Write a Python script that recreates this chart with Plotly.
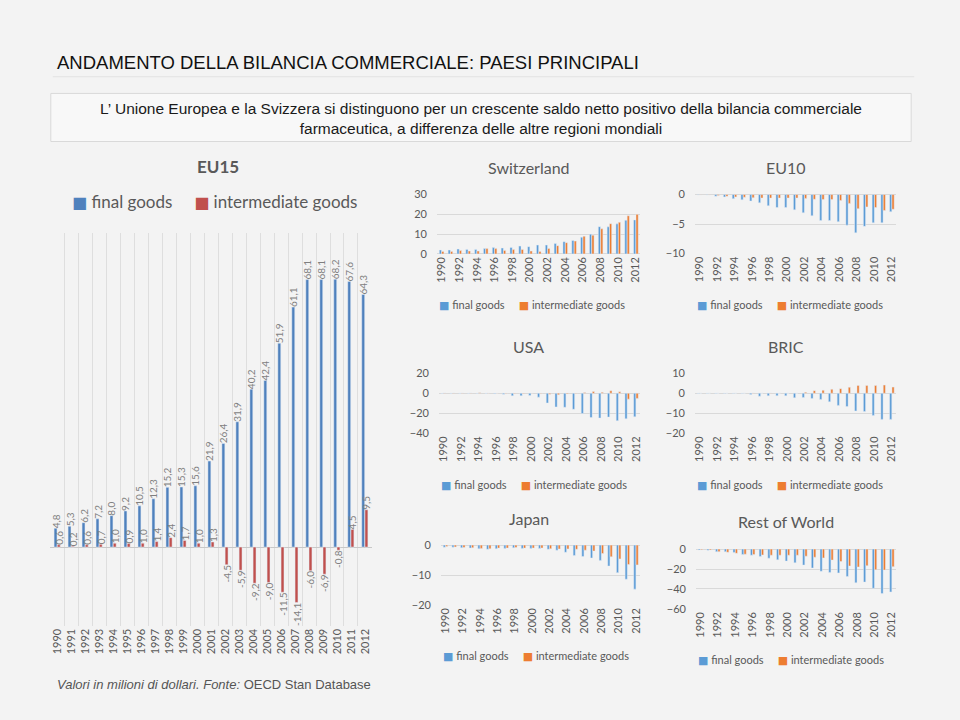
import plotly.graph_objects as go

W, H = 960, 720

years = list(range(1990, 2013))
year_labels = [str(y) for y in years]

# EU15 (final goods / intermediate goods)
eu15_final = [4.8, 5.3, 6.2, 7.2, 8.0, 9.2, 10.5, 12.3, 15.2, 15.3, 15.6, 21.9, 26.4,
              31.9, 40.2, 42.4, 51.9, 61.1, 68.1, 68.1, 68.2, 67.6, 64.3]
eu15_inter = [0.6, 0.2, 0.6, 0.7, 1.0, 0.9, 1.0, 1.4, 2.4, 1.7, 1.0, 1.3, -4.5,
              -5.9, -9.2, -9.0, -11.5, -14.1, -6.0, -6.9, -0.8, 4.5, 9.5]

# Switzerland
ch_final = [2.0, 2.0, 2.5, 2.3, 2.3, 2.7, 3.2, 3.0, 3.3, 4.0, 3.7, 4.5, 4.5,
            5.3, 6.2, 6.8, 8.5, 10.0, 13.8, 13.7, 15.2, 17.0, 17.2]
ch_inter = [1.3, 1.2, 1.7, 1.5, 1.5, 2.7, 2.7, 1.8, 2.2, 2.3, 1.5, 1.2, 2.8,
            4.2, 5.7, 6.5, 9.0, 9.5, 12.7, 15.3, 16.0, 19.3, 20.0]

# EU10
eu10_final = [-0.05, -0.05, -0.3, -0.4, -0.7, -0.9, -1.1, -1.4, -1.9, -2.2, -2.2, -2.6, -3.1,
              -3.6, -4.4, -4.4, -4.6, -5.2, -6.5, -5.4, -4.8, -4.8, -2.9]
eu10_inter = [-0.02, -0.05, -0.15, -0.3, -0.4, -0.45, -0.55, -0.6, -0.6, -0.6, -0.6, -0.6, -0.65,
              -0.8, -0.85, -0.85, -1.0, -1.5, -2.4, -2.1, -2.2, -2.7, -2.5]

# USA
usa_final = [-0.3, -0.2, -0.2, -0.3, -0.3, -0.3, -0.5, -1.0, -2.6, -2.6, -2.3, -3.9, -9.8,
             -13.8, -14.1, -16.1, -20.3, -24.3, -24.9, -23.9, -27.5, -25.6, -23.6]
usa_inter = [0.3, 0.3, 0.2, 0.3, 0.5, -0.2, -0.3, -0.5, -0.5, -0.5, -0.3, -0.5, -1.0,
             -1.5, -0.8, -0.5, 0.8, 1.8, 1.0, 2.5, 1.5, -5.9, -5.2]

# BRIC
bric_final = [-0.1, -0.1, -0.1, -0.1, -0.1, -0.1, -0.6, -1.5, -1.3, -1.2, -1.3, -2.3, -2.1,
              -2.6, -3.1, -4.3, -6.1, -6.7, -8.9, -9.2, -11.1, -13.1, -13.1]
bric_inter = [0.0, 0.0, 0.0, 0.0, 0.0, 0.0, 0.1, 0.0, 0.1, 0.0, 0.0, 0.0, 0.5,
              1.3, 1.5, 2.0, 2.3, 3.0, 3.9, 3.9, 3.9, 4.1, 3.1]

# Japan
jp_final = [-0.7, -0.7, -0.9, -1.0, -1.2, -1.4, -1.2, -1.1, -0.9, -1.1, -1.1, -1.1, -1.4,
            -1.7, -2.4, -3.5, -3.8, -4.3, -5.1, -7.0, -9.2, -11.4, -14.7]
jp_inter = [-0.5, -0.6, -0.8, -0.9, -1.1, -1.2, -1.0, -1.0, -0.8, -1.0, -1.0, -1.0, -1.2,
            -1.3, -1.3, -1.4, -1.7, -2.0, -2.8, -3.9, -4.6, -6.5, -6.6]

# Rest of World
row_final = [-1.0, -1.3, -2.6, -2.6, -3.6, -5.6, -6.2, -7.5, -9.2, -10.8, -12.1, -13.8, -16.1,
             -19.0, -22.3, -23.6, -23.9, -27.5, -33.8, -33.1, -39.3, -44.6, -43.0]
row_inter = [-0.8, -1.0, -2.6, -3.3, -4.3, -5.2, -5.6, -5.9, -6.2, -6.2, -6.2, -6.2, -7.2,
             -8.2, -8.9, -11.1, -12.5, -17.0, -18.0, -16.7, -20.7, -21.0, -17.7]

series_names = ["final goods", "intermediate goods"]

BLUE_EU15 = "#4F81BD"
RED_EU15 = "#C0504D"
BLUE = "#5B9BD5"
ORANGE = "#ED7D31"
GREY_TXT = "#595959"
FONT = "Lato, 'Open Sans', sans-serif"
SANS = "'Liberation Sans', Arial, sans-serif"
NB = "\u00a0"


def px_x(p):
    return p / W


def px_y(p):
    return 1 - p / H


def fmt(v):
    return f"{v:.1f}".replace(".", ",")


def sq(color, size):
    return (f"<span style='color:{color};font-size:{size}px;"
            f"font-family:\"DejaVu Sans\"'>■</span>")


fig = go.Figure()

# ---------- EU15 big chart ----------
fig.add_trace(go.Bar(
    x=years, y=eu15_final, name=series_names[0], marker_color=BLUE_EU15,
    width=0.21, offset=-0.23, xaxis="x", yaxis="y", showlegend=False,
    text=[fmt(v) for v in eu15_final], textposition="outside", textangle=-90,
    constraintext="none", cliponaxis=False,
    textfont=dict(size=10, color="#7f7f7f", family=FONT),
))
fig.add_trace(go.Bar(
    x=years, y=eu15_inter, name=series_names[1], marker_color=RED_EU15,
    width=0.21, offset=0.0, xaxis="x", yaxis="y", showlegend=False,
    text=[fmt(v) for v in eu15_inter], textposition="outside", textangle=-90,
    constraintext="none", cliponaxis=False,
    textfont=dict(size=10, color="#7f7f7f", family=FONT),
))

# ---------- small charts ----------
small = [
    # (axis idx, final, inter, x px range, y px range, y range, dtick, title, title x, title y, legend y)
    (2, ch_final, ch_inter, (436, 640), (191, 251.5), (0, 30), 10, "Switzerland", 528, 163, 303),
    (3, eu10_final, eu10_inter, (695, 897), (191, 251), (-10, 0), 5, "EU10", 786, 163, 303),
    (4, usa_final, usa_inter, (438, 640), (373, 434), (-40, 20), 20, "USA", 528, 346, 487),
    (5, bric_final, bric_inter, (695, 897), (373, 434), (-20, 10), 10, "BRIC", 786, 346, 487),
    (6, jp_final, jp_inter, (440, 640), (548, 609), (-20, 0), 10, "Japan", 528, 521, 661),
    (7, row_final, row_inter, (696, 897), (552, 613), (-60, 0), 20, "Rest of World", 786, 524, 665),
]

annotations = []
layout_axes = {}

for idx, fin, inter, xr, yr, yrange, dt, title, tx, ty, ly in small:
    xa, ya = f"x{idx}", f"y{idx}"
    fig.add_trace(go.Bar(x=years, y=fin, name=series_names[0], marker_color=BLUE,
                         width=0.25, offset=-0.26, xaxis=xa, yaxis=ya, showlegend=False))
    fig.add_trace(go.Bar(x=years, y=inter, name=series_names[1], marker_color=ORANGE,
                         width=0.25, offset=0.01, xaxis=xa, yaxis=ya, showlegend=False))
    layout_axes[f"xaxis{idx}"] = dict(
        domain=[px_x(xr[0]), px_x(xr[1])], anchor=ya, range=[1989.5, 2012.5],
        tickmode="linear", tick0=1990, dtick=2, tickangle=-90,
        tickfont=dict(size=11, color=GREY_TXT, family=FONT),
        showgrid=False, zeroline=False, showline=False, ticks="",
    )
    layout_axes[f"yaxis{idx}"] = dict(
        domain=[px_y(yr[1]), px_y(yr[0])], anchor=xa, range=list(yrange),
        tickmode="linear", tick0=0, dtick=dt,
        tickfont=dict(size=11, color=GREY_TXT, family=FONT),
        showgrid=True, gridcolor="#d9d9d9", gridwidth=1,
        zeroline=True, zerolinecolor="#d9d9d9", zerolinewidth=1,
        ticks="outside", ticklen=7, tickcolor="rgba(0,0,0,0)", showline=False,
    )
    annotations.append(dict(
        text=title, x=px_x(tx), y=px_y(ty), xref="paper", yref="paper",
        xanchor="center", yanchor="middle", showarrow=False,
        font=dict(size=16, color=GREY_TXT, family=FONT),
    ))
    annotations.append(dict(
        text=(f"{sq(BLUE, 11)}{NB}{series_names[0]}{NB * 5}"
              f"{sq(ORANGE, 11)}{NB}{series_names[1]}"),
        x=px_x(xr[0]), y=px_y(ly), xref="paper", yref="paper",
        xanchor="left", yanchor="middle", showarrow=False,
        font=dict(size=11, color=GREY_TXT, family=FONT),
    ))

# ---------- text ----------
annotations += [
    dict(text="ANDAMENTO DELLA BILANCIA COMMERCIALE: PAESI PRINCIPALI",
         x=px_x(52), y=px_y(57), xref="paper", yref="paper", xanchor="left", yanchor="middle",
         showarrow=False, font=dict(size=18.5, color="#111111", family=SANS)),
    dict(text=("L’ Unione Europea e la Svizzera si distinguono per un crescente saldo netto positivo della bilancia commerciale"
               "<br>farmaceutica, a differenza delle altre regioni mondiali"),
         x=px_x(480), y=px_y(114), xref="paper", yref="paper", xanchor="center", yanchor="middle",
         showarrow=False, align="center",
         font=dict(size=15.5, color="#1a1a1a", family=SANS)),
    dict(text="<i>Valori in milioni di dollari. Fonte:</i> OECD Stan Database",
         x=px_x(52), y=px_y(690), xref="paper", yref="paper", xanchor="left", yanchor="middle",
         showarrow=False, font=dict(size=13, color="#555555", family=SANS)),
    dict(text="<b>EU15</b>", x=px_x(216), y=px_y(162), xref="paper", yref="paper",
         xanchor="center", yanchor="middle", showarrow=False,
         font=dict(size=17, color=GREY_TXT, family=FONT)),
    dict(text=(f"{sq(BLUE_EU15, 16)} {series_names[0]}{NB * 5}"
               f"{sq(RED_EU15, 16)} {series_names[1]}"),
         x=px_x(67), y=px_y(198), xref="paper", yref="paper", xanchor="left", yanchor="middle",
         showarrow=False, font=dict(size=17, color=GREY_TXT, family=FONT)),
]

shapes = [
    dict(type="line", xref="paper", yref="paper", x0=px_x(50), x1=px_x(915),
         y0=px_y(71), y1=px_y(71), line=dict(color="#e2e2e2", width=1)),
    dict(type="rect", xref="paper", yref="paper", x0=px_x(48), x1=px_x(912),
         y0=px_y(137), y1=px_y(88), line=dict(color="#d9d9d9", width=1),
         fillcolor="#f8f8f8", layer="below"),
]

fig.update_layout(
    width=W, height=H,
    margin=dict(l=0, r=0, t=0, b=0),
    paper_bgcolor="#f3f3f3",
    plot_bgcolor="rgba(0,0,0,0)",
    showlegend=False,
    barmode="overlay",
    font=dict(family=FONT, color=GREY_TXT),
    xaxis=dict(
        domain=[px_x(47.5), px_x(370.5)], anchor="y", range=[1989.5, 2012.5],
        tickmode="array", tickvals=years, ticktext=year_labels, tickangle=-90,
        tickfont=dict(size=11, color=GREY_TXT, family=FONT),
        showgrid=False, zeroline=False, showline=False, ticks="",
        minor=dict(tick0=1989.5, dtick=1, showgrid=True, gridcolor="#dedede", gridwidth=1, ticks=""),
    ),
    yaxis=dict(
        domain=[px_y(630), px_y(230)], anchor="x", range=[-20, 80],
        showticklabels=False, showgrid=False, zeroline=True,
        zerolinecolor="#c8c8c8", zerolinewidth=1, ticks="",
    ),
    annotations=annotations,
    shapes=shapes,
    **layout_axes,
)

fig.write_html(
    "out.html",
    config={"displayModeBar": False},
    post_script="document.body.style.margin='0px';document.body.style.overflow='hidden';",
)
